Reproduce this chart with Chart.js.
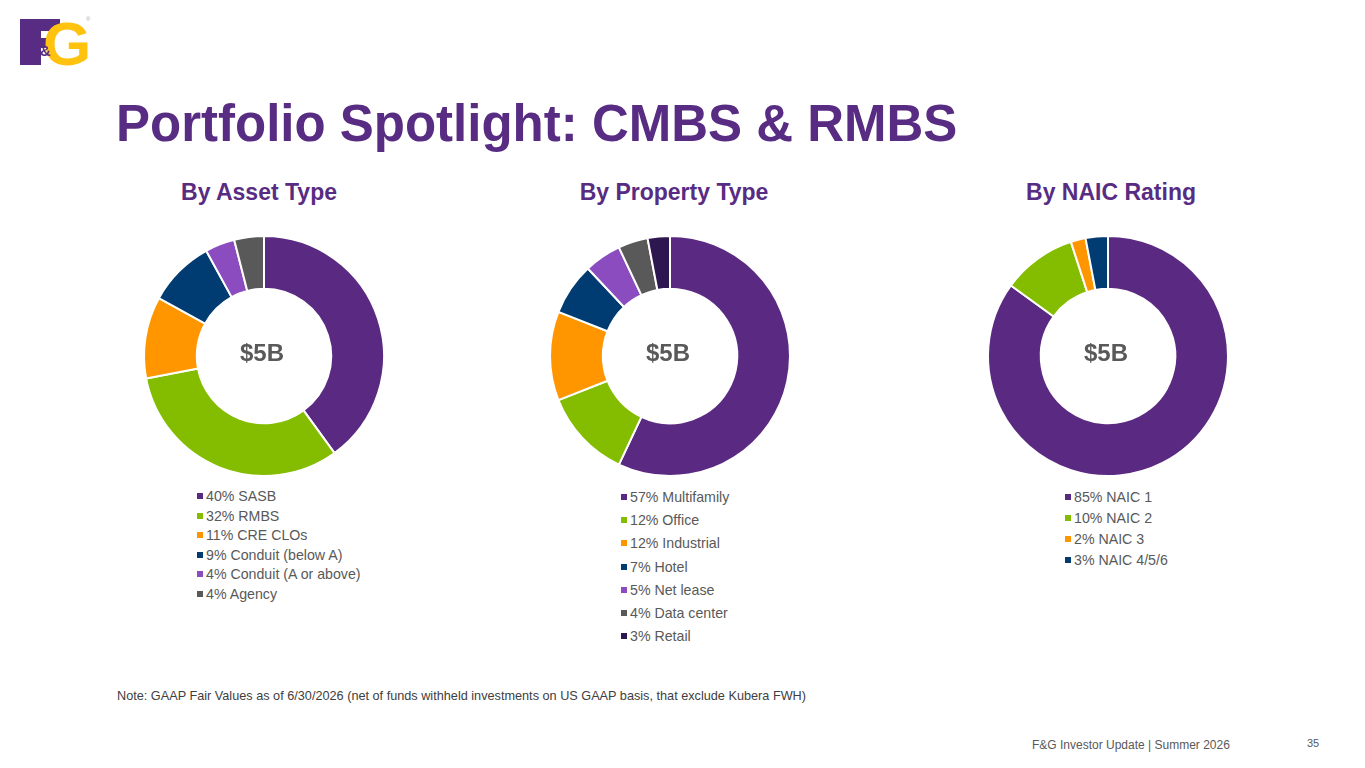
<!DOCTYPE html>
<html>
<head>
<meta charset="utf-8">
<script src="https://cdn.jsdelivr.net/npm/chart.js@4.4.1/dist/chart.umd.min.js"></script>
<style>
  html,body{margin:0;padding:0;background:#fff;}
  body{width:1365px;height:768px;position:relative;overflow:hidden;font-family:"Liberation Sans",Arial,sans-serif;}
  .abs{position:absolute;}
  .title{left:116px;top:94px;font-size:51px;font-weight:bold;color:#582C83;white-space:nowrap;}
  .sub{top:179px;font-size:23px;font-weight:bold;color:#582C83;white-space:nowrap;transform:translateX(-50%);}
  .box{width:250px;height:250px;}
  .legend{font-size:14.2px;color:#595959;}
  .legend div{position:absolute;white-space:nowrap;left:0;}
  .legend span.sq{display:inline-block;width:6px;height:6px;margin-right:3px;vertical-align:2px;}
  .note{left:117px;top:689px;font-size:12.7px;color:#404040;white-space:nowrap;}
  .foot{left:1032px;top:738px;font-size:12px;color:#595959;white-space:nowrap;}
  .page{left:1307px;top:737px;font-size:11px;color:#595959;}
</style>
</head>
<body>
<!-- logo (graphic) -->
<canvas id="logo" class="abs" style="left:16px;top:12px;" width="80" height="60"></canvas>

<div class="abs title">Portfolio Spotlight: CMBS &amp; RMBS</div>

<div class="abs sub" style="left:259px;">By Asset Type</div>
<div class="abs sub" style="left:674px;">By Property Type</div>
<div class="abs sub" style="left:1111px;">By NAIC Rating</div>

<div class="abs box" style="left:139px;top:231px;"><canvas id="c1"></canvas></div>
<div class="abs box" style="left:545px;top:231px;"><canvas id="c2"></canvas></div>
<div class="abs box" style="left:983px;top:231px;"><canvas id="c3"></canvas></div>

<div class="abs legend" id="l1" style="left:197px;top:488px;"></div>
<div class="abs legend" id="l2" style="left:621px;top:489px;"></div>
<div class="abs legend" id="l3" style="left:1065px;top:489px;"></div>

<div class="abs note">Note: GAAP Fair Values as of 6/30/2026 (net of funds withheld investments on US GAAP basis, that exclude Kubera FWH)</div>
<div class="abs foot">F&amp;G Investor Update | Summer 2026</div>
<div class="abs page">35</div>

<script>
// ---- data ----
const assetLabels = ["SASB","RMBS","CRE CLOs","Conduit (below A)","Conduit (A or above)","Agency"];
const assetValues = [40,32,11,9,4,4];

const propertyLabels = ["Multifamily","Office","Industrial","Hotel","Net lease","Data center","Retail"];
const propertyValues = [57,12,12,7,5,4,3];

const naicLabels = ["NAIC 1","NAIC 2","NAIC 3","NAIC 4/5/6"];
const naicValues = [85,10,2,3];

const centerLabel = "$5B";

const palette = ["#5A2A82","#84BD00","#FF9600","#003B71","#8A4CBF","#595959","#2E1650"];

// ---- logo ----
(function(){
  const c = document.getElementById('logo').getContext('2d');
  c.fillStyle = '#582C83';
  c.fillRect(4,7,21,46);
  c.fillRect(4,7,40,12);
  c.fillRect(4,26,34,10);
  c.fillStyle = '#FFC20E';
  c.font = 'bold 62px "Liberation Sans", Arial, sans-serif';
  c.textBaseline = 'alphabetic';
  c.fillText('G', 27, 53);
  c.fillStyle = '#582C83';
  c.font = 'bold 15px "Liberation Sans", Arial, sans-serif';
  c.fillText('&', 24, 44);
  c.fillStyle = '#aaa';
  c.font = '6px "Liberation Sans", Arial, sans-serif';
  c.fillText('®', 70, 9);
})();

// ---- center text plugin ----
const centerText = {
  id:'centerText',
  afterDraw(chart){
    const meta = chart.getDatasetMeta(0).data[0];
    if(!meta) return;
    const ctx = chart.ctx;
    ctx.save();
    ctx.font = 'bold 24px "Liberation Sans", Arial, sans-serif';
    ctx.fillStyle = '#595959';
    ctx.textAlign = 'center';
    ctx.textBaseline = 'middle';
    ctx.fillText(centerLabel, meta.x - 2, meta.y - 2);
    ctx.restore();
  }
};

function makeDonut(id, labels, values){
  new Chart(document.getElementById(id), {
    type:'doughnut',
    data:{labels, datasets:[{data:values, backgroundColor:palette.slice(0,values.length), borderColor:'#ffffff', borderWidth:2}]},
    options:{
      responsive:true, maintainAspectRatio:false, animation:false,
      cutout:'56%',
      layout:{padding:4},
      plugins:{legend:{display:false}, tooltip:{enabled:false}}
    },
    plugins:[centerText]
  });
}

function makeLegend(id, labels, values, spacing){
  const el = document.getElementById(id);
  labels.forEach((l,i)=>{
    const d = document.createElement('div');
    d.style.top = (i*spacing)+'px';
    d.innerHTML = '<span class="sq" style="background:'+palette[i]+'"></span>'+values[i]+'% '+l;
    el.appendChild(d);
  });
}

makeDonut('c1', assetLabels, assetValues);
makeDonut('c2', propertyLabels, propertyValues);
makeDonut('c3', naicLabels, naicValues);
makeLegend('l1', assetLabels, assetValues, 19.5);
makeLegend('l2', propertyLabels, propertyValues, 23.2);
makeLegend('l3', naicLabels, naicValues, 21);
</script>
</body>
</html>
